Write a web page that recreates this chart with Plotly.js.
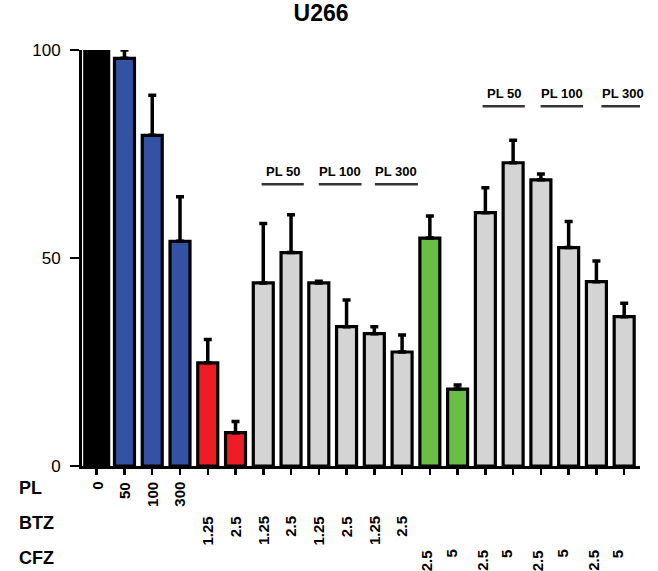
<!DOCTYPE html>
<html>
<head>
<meta charset="utf-8">
<script src="https://cdn.plot.ly/plotly-3.0.1.min.js"></script>
<style>html,body{margin:0;padding:0;background:#fff;}#chart{width:658px;height:571px;}</style>
</head>
<body>
<div id="chart"></div>
<script>
// ---- data ----
var viability = [100, 98.0, 79.5, 54.0, 24.8, 8.0, 44.0, 51.3, 44.0, 33.5, 31.8, 27.4, 54.8, 18.5, 60.9, 72.9, 68.8, 52.5, 44.3, 35.9];
var errUp     = [0, 2.0, 9.6, 10.7, 5.6, 2.7, 14.3, 9.1, 0.4, 6.4, 1.7, 4.1, 5.3, 1.0, 6.0, 5.4, 1.4, 6.3, 5.0, 3.2];
var barGroup  = ["ctrl","PL","PL","PL","BTZ","BTZ","combo","combo","combo","combo","combo","combo","CFZ","CFZ","combo","combo","combo","combo","combo","combo"];
var plLabels  = ["0","50","100","300","","","","","","","","","","","","","","","",""];
var btzLabels = ["","","","","1.25","2.5","1.25","2.5","1.25","2.5","1.25","2.5","","","","","","","",""];
var cfzLabels = ["","","","","","","","","","","","","2.5","5","2.5","5","2.5","5","2.5","5"];
var rowNames  = ["PL","BTZ","CFZ"];
var bracketLabels = ["PL 50","PL 100","PL 300","PL 50","PL 100","PL 300"];
var yTicks = [0, 50, 100];
var title = "U266";

// ---- styling ----
var groupColor = {ctrl:"#000000", PL:"#3452A3", BTZ:"#EE1D25", CFZ:"#6ABD45", combo:"#D4D4D4"};
var xs = viability.map(function(_, i){ return i; });
var colors = barGroup.map(function(g){ return groupColor[g]; });
var widths = barGroup.map(function(g){ return g === "ctrl" ? 0.86 : 0.72; });

var trace = {
  type: "bar",
  x: xs,
  y: viability,
  width: widths,
  marker: {color: colors, line: {color: "#000", width: 3.2}},
  error_y: {type: "data", symmetric: false, array: errUp, arrayminus: errUp.map(function(){return 0;}),
            color: "#000", thickness: 3.5, width: 4},
  cliponaxis: false,
  hoverinfo: "none"
};

var fontFam = "Arial, 'Liberation Sans', sans-serif";
var annotations = [];
var shapes = [];

// rotated tick labels in three rows
var rows = [plLabels, btzLabels, cfzLabels];
var rowTop = [-0.034, -0.116, -0.197];
var rowMid = [-0.054, -0.138, -0.220];
rows.forEach(function(arr, r){
  arr.forEach(function(t, i){
    if (!t) return;
    var shift = 0;
    if (r === 2) shift = (t === "5") ? -6 : -3;
    annotations.push({xref: "x", yref: "paper", x: i, y: rowTop[r], text: t, textangle: -90,
      showarrow: false, xanchor: "center", yanchor: "top", xshift: shift,
      font: {family: fontFam, size: 15, color: "#000", weight: "bold"}});
  });
  annotations.push({xref: "paper", yref: "paper", x: -0.117, y: rowMid[r], text: "<b>" + rowNames[r] + "</b>",
    showarrow: false, xanchor: "left", yanchor: "middle",
    font: {family: fontFam, size: 18, color: "#000"}});
});

// brackets
var bracketX0 = [5.94, 8.0, 10.02, 13.9, 15.99, 18.18];
var bracketX1 = [7.46, 9.54, 11.57, 15.42, 17.52, 19.75];
var bracketY  = [67.7, 67.7, 67.7, 86.5, 86.5, 86.5];
bracketLabels.forEach(function(lbl, k){
  shapes.push({type: "line", xref: "x", yref: "y", x0: bracketX0[k], x1: bracketX1[k], y0: bracketY[k], y1: bracketY[k],
    line: {color: "#333", width: 2.5}});
  annotations.push({xref: "x", yref: "y", x: (bracketX0[k] + bracketX1[k]) / 2, y: bracketY[k], text: "<b>" + lbl + "</b>",
    showarrow: false, xanchor: "center", yanchor: "bottom", yshift: 3,
    font: {family: fontFam, size: 13, color: "#000"}});
});

var layout = {
  width: 658, height: 571,
  margin: {l: 82, r: 18, t: 50, b: 105},
  paper_bgcolor: "#fff", plot_bgcolor: "#fff",
  showlegend: false,
  title: {text: "<b>" + title + "</b>", x: 0.488, xref: "container", xanchor: "center",
          y: 0.992, yref: "container", yanchor: "top",
          font: {family: fontFam, size: 23, color: "#000"}},
  xaxis: {range: [-0.53, 19.57], showgrid: false, zeroline: false, showline: true, linecolor: "#000", linewidth: 3,
          ticks: "outside", ticklen: 6, tickwidth: 2.5, tickcolor: "#000", tickvals: xs, showticklabels: false, fixedrange: true},
  yaxis: {range: [0, 100], showgrid: false, zeroline: false, showline: true, linecolor: "#000", linewidth: 3,
          ticks: "outside", ticklen: 9, tickwidth: 2, tickcolor: "#000", tickvals: yTicks, ticktext: yTicks.map(String),
          ticklabelstandoff: 6, tickfont: {family: fontFam, size: 17, color: "#000"}, fixedrange: true},
  annotations: annotations,
  shapes: shapes
};

Plotly.newPlot("chart", [trace], layout, {displayModeBar: false, staticPlot: true});
</script>
</body>
</html>
